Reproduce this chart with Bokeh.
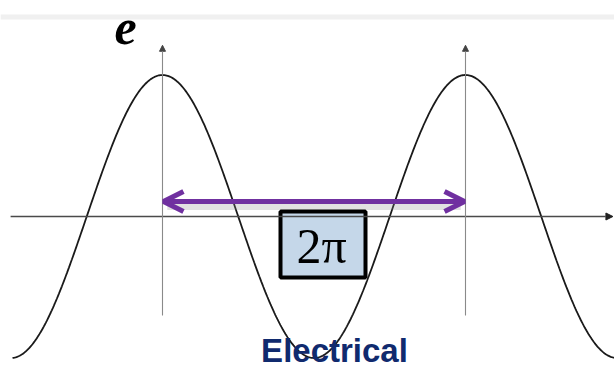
import numpy as np
from bokeh.plotting import figure
from bokeh.models import Range1d, Arrow, OpenHead, NormalHead
from bokeh.core.properties import value
from bokeh.embed import file_html
from bokeh.resources import INLINE

# ---- data ----
period = 2 * np.pi                 # one electrical cycle
amplitude = 1.0                    # peak of e
peak_thetas = [0.0, 2 * np.pi]     # positions of the two marked peaks
curve_start, curve_end = -3.11, 9.40
axis_start, axis_end = -3.15, 9.34
marker_bottom, marker_top = -0.70, 1.21
span_label = "2π"
axis_label = "e"
caption = "Electrical"

# ---- pixel geometry of the picture mapped to units ----
k = 303 / (2 * np.pi)      # px per radian
a = 141.5                  # px per unit of e
x0, y0 = 162, 216          # picture px of (0, 0)

def X(px):
    return (px - x0) / k

def Y(py):
    return (y0 - py) / a

W, H = 614, 371
p = figure(width=W, height=H, output_backend="svg", toolbar_location=None,
           x_range=Range1d(X(0), X(W)), y_range=Range1d(Y(H), Y(0)),
           min_border=0, outline_line_color=None)
p.axis.visible = False
p.grid.visible = False
p.background_fill_color = "white"

# top light band
p.quad(left=[X(0)], right=[X(W)], bottom=[Y(19)], top=[Y(14)],
       fill_color="#f0f0f0", line_color=None)

# horizontal axis with arrow
p.add_layout(Arrow(end=NormalHead(size=7, fill_color="#222222", line_color="#222222"),
                   x_start=axis_start, y_start=0, x_end=axis_end, y_end=0,
                   line_color="#4a4a4a", line_width=1.3))

# vertical markers at peaks
for t in peak_thetas:
    p.add_layout(Arrow(end=NormalHead(size=6, fill_color="#444444", line_color="#444444"),
                       x_start=t, y_start=marker_bottom, x_end=t, y_end=marker_top,
                       line_color="#8a8a8a", line_width=1.1))

# cosine wave e = cos(theta)
theta = np.linspace(curve_start, curve_end, 600)
p.line(theta, amplitude * np.cos(theta), line_color="#1a1a1a", line_width=1.8)

# shadow of purple arrow
p.line([peak_thetas[0] + 0.1, peak_thetas[1] - 0.1], [Y(206), Y(206)],
       line_color="#888888", line_width=7, line_alpha=0.25)

# purple double arrow spanning 2π
arrow_y = Y(201)
p.add_layout(Arrow(start=OpenHead(size=20, line_color="#7030a0", line_width=5),
                   end=OpenHead(size=20, line_color="#7030a0", line_width=5),
                   x_start=peak_thetas[0] + 0.02, y_start=arrow_y,
                   x_end=peak_thetas[1] - 0.02, y_end=arrow_y,
                   line_color="#7030a0", line_width=5))

# 2π box
p.quad(left=[X(280)], right=[X(365)], bottom=[Y(277)], top=[Y(211)],
       fill_color="#c5d7e9", line_color="black", line_width=4)
p.text(x=[X(321)], y=[Y(245)], text=[span_label], text_align="center",
       text_baseline="middle", text_font=value("Liberation Serif"),
       text_font_size="50px", text_color="black")

# e label
p.text(x=[X(125)], y=[Y(27)], text=[axis_label], text_align="center",
       text_baseline="middle", text_font=value("Liberation Serif"),
       text_font_style="bold italic", text_font_size="50px", text_color="black")

# caption
p.text(x=[X(334)], y=[Y(350)], text=[caption], text_align="center",
       text_baseline="middle", text_font=value("Liberation Sans"),
       text_font_style="bold", text_font_size="33px", text_color="#102a6e")

open("out.html", "w").write(file_html(p, INLINE))
